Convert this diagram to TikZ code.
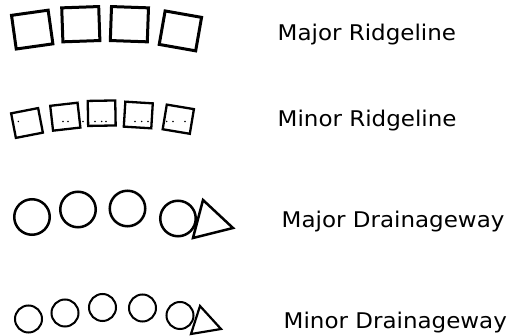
\documentclass[tikz,border=0pt]{standalone}
\usepackage{fontspec}
\setmainfont{DejaVu Sans}
\begin{document}
\begin{tikzpicture}[x=1pt,y=-1pt,
  bigsq/.style={draw,line width=3pt,minimum width=37pt,minimum height=34pt,inner sep=0pt},
  smallsq/.style={draw,line width=2.3pt,minimum width=27.5pt,minimum height=25pt,inner sep=0pt},
  bigcirc/.style={draw,circle,line width=2.5pt,minimum size=35.5pt,inner sep=0pt},
  smallcirc/.style={draw,circle,line width=2pt,minimum size=27pt,inner sep=0pt},
  tri/.style={line width=2.5pt,line join=miter},
  speck/.style={fill=black,circle,inner sep=0pt,minimum size=1.6pt},
  lbl/.style={anchor=base west,inner sep=0pt,font=\fontsize{23}{27}\selectfont}]
\useasboundingbox (0,0) rectangle (515,336);
% Major Ridgeline
\node[bigsq,rotate=8] (r1) at (32.2,29.6) {};
\node[bigsq,rotate=2] (r2) at (80.8,24.2) {};
\node[bigsq,rotate=-2] (r3) at (129.4,24.2) {};
\node[bigsq,rotate=-10] (r4) at (180.4,30.9) {};
\node[lbl] (t1) at (277.5,40.5) {\scalebox{1}[0.94]{Major Ridgeline}};
% Minor Ridgeline
\node[smallsq,rotate=11] (m1) at (27,123) {};
\node[smallsq,rotate=6.5] (m2) at (65.3,116.7) {};
\node[smallsq,rotate=1] (m3) at (101.7,113.2) {};
\node[smallsq,rotate=-3.5] (m4) at (138.3,115) {};
\node[smallsq,rotate=-9.5] (m5) at (178.3,119.2) {};
\foreach \x in {18.3,63,68,83,95,101.7,106,135,141.7,148,166.7,173,185}
  \node[speck] at (\x,121.5) {};
\node[lbl] (t2) at (277.5,127) {\scalebox{1}[0.94]{Minor Ridgeline}};
% Major Drainageway
\node[bigcirc] (c1) at (32,217) {};
\node[bigcirc] (c2) at (78,209.5) {};
\node[bigcirc] (c3) at (127.5,208.5) {};
\node[bigcirc] (c4) at (178,218.5) {};
\coordinate (a1) at (203,200);
\coordinate (a2) at (233,228);
\coordinate (a3) at (193,238);
\draw[tri] (a1) -- (a2) -- (a3) -- cycle;
\node[lbl] (t3) at (281.5,228) {\scalebox{1}[0.94]{Major Drainageway}};
% Minor Drainageway
\node[smallcirc] (d1) at (28.5,319) {};
\node[smallcirc] (d2) at (65,313) {};
\node[smallcirc] (d3) at (102.5,307.5) {};
\node[smallcirc] (d4) at (142.5,308) {};
\node[smallcirc] (d5) at (180,315.5) {};
\coordinate (b1) at (200,306);
\coordinate (b2) at (221,329);
\coordinate (b3) at (191,334);
\draw[tri,line width=2.2pt] (b1) -- (b2) -- (b3) -- cycle;
\node[lbl] (t4) at (283.5,329) {\scalebox{1}[0.94]{Minor Drainageway}};
\end{tikzpicture}
\end{document}
